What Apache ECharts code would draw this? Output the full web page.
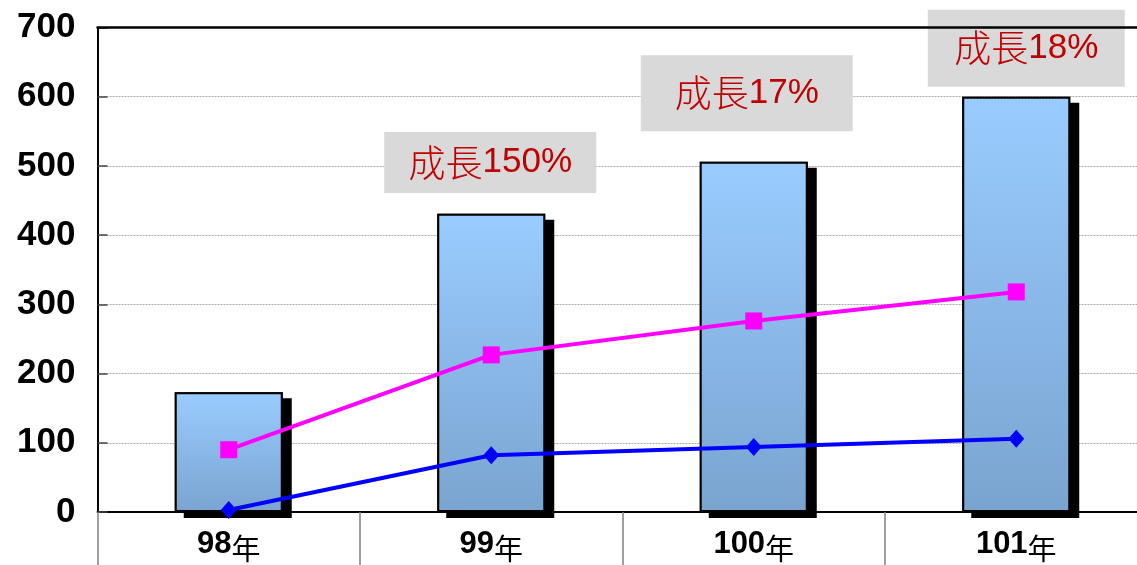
<!DOCTYPE html>
<html>
<head>
<meta charset="utf-8">
<script src="https://cdn.jsdelivr.net/npm/echarts@6/dist/echarts.min.js"></script>
<style>
html,body{margin:0;padding:0;background:#fff;}
#main{width:1137px;height:565px;}
</style>
</head>
<body>
<div id="main"></div>
<script>
const categories = ['98年', '99年', '100年', '101年'];
const barValues = [173, 431, 506, 600];
const pinkValues = [90, 227, 276, 318];
const blueValues = [3, 82, 94, 106];
const growthLabels = ['', '成長150%', '成長17%', '成長18%'];
const growthYs = [null, 505, 605, 670];
const yTicks = [0, 100, 200, 300, 400, 500, 600, 700];

const chart = echarts.init(document.getElementById('main'));

const offsets = [[0,0],[-1,0],[-7,0],[10,0]];
const sizes = [[0,0],[212,61],[212,76],[197,77]];
const markData = [];
growthLabels.forEach((t, i) => {
  if (!t) return;
  const m = t.match(/^(\D+)(.*)$/);
  markData.push({
    coord: [i, growthYs[i]],
    symbol: 'rect',
    symbolSize: sizes[i],
    symbolOffset: offsets[i],
    itemStyle: {color: '#D9D9D9'},
    label: {
      show: true,
      position: 'inside',
      formatter: '{c|' + m[1] + '}{n|' + m[2] + '}',
      rich: {
        c: {fontFamily: 'Noto Sans CJK TC', fontSize: 37, fontWeight: 300, color: '#C00000'},
        n: {fontFamily: 'Liberation Sans', fontSize: 35, color: '#C00000'}
      }
    }
  });
});

chart.setOption({
  animation: false,
  grid: {
    left: 97.5, top: 27.5, bottom: 53, right: -10.5,
    outerBoundsMode: 'none',
    containLabel: false,
    show: false
  },
  xAxis: [{
    type: 'category',
    data: categories,
    boundaryGap: true,
    axisLine: {lineStyle: {color: '#000', width: 2}},
    axisTick: {show: true, length: 56, interval: 0, lineStyle: {color: '#808080', width: 1.5}},
    axisLabel: {
      interval: 0,
      margin: 14,
      formatter: v => '{n|' + v.replace('年','') + '}{y|年}',
      rich: {
        n: {fontFamily: 'Liberation Sans', fontWeight: 'bold', fontSize: 31, color: '#000'},
        y: {fontFamily: 'Noto Sans CJK TC', fontSize: 29, color: '#000', padding: [8,0,0,0]}
      }
    }
  }, {
    type: 'category',
    data: categories,
    position: 'top',
    axisLine: {show: true, lineStyle: {color: '#000', width: 2.5}},
    axisTick: {show: false},
    axisLabel: {show: false},
    z: 10
  }],
  yAxis: {
    type: 'value',
    min: 0, max: 700, interval: 100,
    axisLine: {show: true, lineStyle: {color: '#000', width: 2}},
    axisTick: {show: true, inside: true, length: 10, lineStyle: {color: '#444', width: 1.5}},
    splitLine: {show: true, lineStyle: {color: '#aaa', type: [2, 1], width: 1}},
    axisLabel: {
      margin: 22,
      fontFamily: 'Liberation Sans', fontWeight: 'bold', fontSize: 35, color: '#000',
      formatter: v => yTicks.includes(v) ? String(v) : ''
    }
  },
  series: [
    {
      type: 'bar',
      data: barValues,
      barWidth: 108,
      z: 1,
      silent: true,
      itemStyle: {
        color: '#000',
        shadowColor: '#000',
        shadowBlur: 0,
        shadowOffsetX: 9,
        shadowOffsetY: 6
      }
    },
    {
      type: 'bar',
      data: barValues,
      barWidth: 108,
      barGap: '-100%',
      z: 2,
      itemStyle: {
        color: new echarts.graphic.LinearGradient(0, 0, 0, 1, [
          {offset: 0, color: '#99CCFF'},
          {offset: 1, color: '#7AA4D0'}
        ]),
        borderColor: '#000',
        borderWidth: 2
      },
      markPoint: {
        silent: true,
        data: markData
      }
    },
    {
      type: 'line',
      data: pinkValues,
      z: 5,
      symbol: 'rect',
      symbolSize: 17,
      lineStyle: {color: '#FF00FF', width: 4},
      itemStyle: {color: '#FF00FF'}
    },
    {
      type: 'line',
      data: blueValues,
      z: 5,
      symbol: 'diamond',
      symbolSize: [16, 18],
      lineStyle: {color: '#0000FF', width: 4},
      itemStyle: {color: '#0000FF'}
    }
  ]
});
</script>
</body>
</html>
